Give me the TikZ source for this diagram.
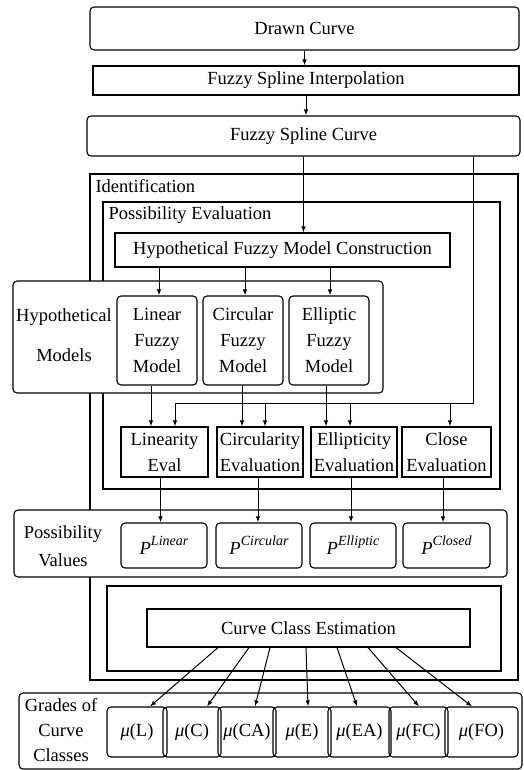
\documentclass[tikz,border=0pt]{standalone}
\usepackage{fontspec}
\setmainfont{Liberation Serif}
\usetikzlibrary{arrows.meta,calc}
\def\pv#1{\textit{P}\raisebox{0.5em}{\fontsize{14}{14}\selectfont\itshape #1}}

\begin{document}
\begin{tikzpicture}[x=1pt,y=-1pt,line width=1.1pt,font=\fontsize{18.5}{26}\selectfont,
  rbox/.style={draw,rounded corners=4pt,inner sep=0pt,align=center},
  sbox/.style={draw,inner sep=0pt,align=center},
  lbl/.style={inner sep=0pt,align=center},
  arr/.style={-{Latex[length=6pt,width=4.5pt]},line width=1pt}]
   \useasboundingbox (0,0) rectangle (523,770);
   % top chain
   \node[rbox,minimum width=429pt,minimum height=43pt] (drawn) at (304.5,28.5){Drawn Curve};
   \node[sbox,minimum width=426pt,minimum height=29pt] (fsi) at (306,80.5){Fuzzy Spline Interpolation};
   \node[rbox,minimum width=433pt,minimum height=40pt] (fsc) at (303.5,136){Fuzzy Spline Curve};
   \draw[arr] (drawn.south)--(drawn.south |- fsi.north);
   \draw[arr] (fsi.south)--(fsi.south |- fsc.north);
   % frames
   \draw (90,174) rectangle (518,680);
   \node[lbl,anchor=west] (ident) at (95,186){Identification};
   \draw (103,202) rectangle (500,489);
   \node[lbl,anchor=west] (peval) at (108,215){Possibility Evaluation};
   \node[sbox,minimum width=335pt,minimum height=34pt] (hfmc) at (282.5,250){Hypothetical Fuzzy Model Construction};
   \draw[arr] (fsc.south)--(fsc.south |- hfmc.north);
   % hypothetical models
   \node[rbox,fill=white,minimum width=370pt,minimum height=112pt] (hyp) at (198,337){};
   \node[lbl] (hyplbl) at (64,335){Hypothetical\\[14pt]Models};
   \node[rbox,minimum width=80pt,minimum height=89pt] (linmod) at (157,340.5){Linear\\Fuzzy\\Model};
   \node[rbox,minimum width=80pt,minimum height=89pt] (cirmod) at (243,340.5){Circular\\Fuzzy\\Model};
   \node[rbox,minimum width=80pt,minimum height=89pt] (ellmod) at (329,340.5){Elliptic\\Fuzzy\\Model};
   \draw[arr] ([xshift=2pt]linmod.north |- hfmc.south)--([xshift=2pt]linmod.north);
   \draw[arr] ([xshift=2pt]cirmod.north |- hfmc.south)--([xshift=2pt]cirmod.north);
   \draw[arr] ([xshift=1pt]ellmod.north |- hfmc.south)--([xshift=1pt]ellmod.north);
   % evaluations
   \node[sbox,minimum width=87pt,minimum height=50pt] (lineval) at (164.5,452){Linearity\\Eval};
   \node[sbox,minimum width=86pt,minimum height=50pt] (cireval) at (260,452){Circularity\\Evaluation};
   \node[sbox,minimum width=86pt,minimum height=50pt] (elleval) at (354,452){Ellipticity\\Evaluation};
   \node[sbox,minimum width=89pt,minimum height=50pt] (cloeval) at (446.5,452){Close\\Evaluation};
   \draw[arr] ([xshift=-6pt]linmod.south)--([xshift=-6pt]linmod.south |- lineval.north);
   \draw[arr] ([xshift=-1pt]cirmod.south)--([xshift=-1pt]cirmod.south |- cireval.north);
   \draw[arr] ([xshift=-3pt]ellmod.south)--([xshift=-3pt]ellmod.south |- elleval.north);
   % curve goes round to every evaluation
   \coordinate (bus) at (473,403);
   \coordinate (busl) at (175,403);
   \coordinate (busc) at (265,403);
   \coordinate (buse) at (350,403);
   \coordinate (busk) at (450,403);
   \draw[arr] (fsc.south -| bus)--(bus)--(busl)--(busl |- lineval.north);
   \draw[arr] (busc)--(busc |- cireval.north);
   \draw[arr] (buse)--(buse |- elleval.north);
   \draw[arr] (busk)--(busk |- cloeval.north);
   % possibility values
   \node[rbox,fill=white,minimum width=493pt,minimum height=67pt] (pvals) at (260.5,543.5){};
   \node[lbl] (pvlbl) at (63,546){Possibility\\[2pt]Values};
   \node[rbox,minimum width=86pt,minimum height=45pt] (plin) at (164,545.5){\pv{Linear}};
   \node[rbox,minimum width=86pt,minimum height=45pt] (pcir) at (259,545.5){\pv{Circular}};
   \node[rbox,minimum width=86pt,minimum height=45pt] (pell) at (353,545.5){\pv{Elliptic}};
   \node[rbox,minimum width=87pt,minimum height=45pt] (pclo) at (446.5,545.5){\pv{Closed}};
   \draw[arr] ([xshift=-4pt]lineval.south)--([xshift=-4pt]lineval.south |- plin.north);
   \draw[arr] ([xshift=-2pt]cireval.south)--([xshift=-2pt]cireval.south |- pcir.north);
   \draw[arr] ([xshift=-3pt]elleval.south)--([xshift=-3pt]elleval.south |- pell.north);
   \draw[arr] ([xshift=-3.5pt]cloeval.south)--([xshift=-3.5pt]cloeval.south |- pclo.north);
   % estimation
   \draw (107,586) rectangle (501,671);
   \node[sbox,minimum width=323pt,minimum height=38pt] (cce) at (308.5,628){Curve Class Estimation};
   % grades
   \node[rbox,minimum width=503pt,minimum height=76pt] (grades) at (270.5,731){};
   \node[lbl,font=\fontsize{18.5}{25}\selectfont] (grlbl) at (61,730){Grades of\\Curve\\Classes};
   \node[rbox,minimum width=60pt,minimum height=50pt] (mul) at (137,732){\textit{μ}(L)};
   \node[rbox,minimum width=58pt,minimum height=50pt] (muc) at (192,732){\textit{μ}(C)};
   \node[rbox,minimum width=58pt,minimum height=50pt] (muca) at (247,732){\textit{μ}(CA)};
   \node[rbox,minimum width=58pt,minimum height=50pt] (mue) at (302,732){\textit{μ}(E)};
   \node[rbox,minimum width=63pt,minimum height=50pt] (muea) at (359.5,732){\textit{μ}(EA)};
   \node[rbox,minimum width=59pt,minimum height=50pt] (mufc) at (418.5,732){\textit{μ}(FC)};
   \node[rbox,minimum width=73pt,minimum height=50pt] (mufo) at (481.5,732){\textit{μ}(FO)};
   \draw[arr] ([xshift=-90.5pt]cce.south)--([xshift=13pt]mul.north);
   \draw[arr] ([xshift=-59.5pt]cce.south)--([xshift=15pt]muc.north);
   \draw[arr] ([xshift=-38.5pt]cce.south)--([xshift=8pt]muca.north);
   \draw[arr] ([xshift=-2.5pt]cce.south)--([xshift=6pt]mue.north);
   \draw[arr] ([xshift=28.5pt]cce.south)--([xshift=-2.5pt]muea.north);
   \draw[arr] ([xshift=59.5pt]cce.south)--([xshift=0.5pt]mufc.north);
   \draw[arr] ([xshift=87.5pt]cce.south)--([xshift=-9.5pt]mufo.north);
\end{tikzpicture}
\end{document}
